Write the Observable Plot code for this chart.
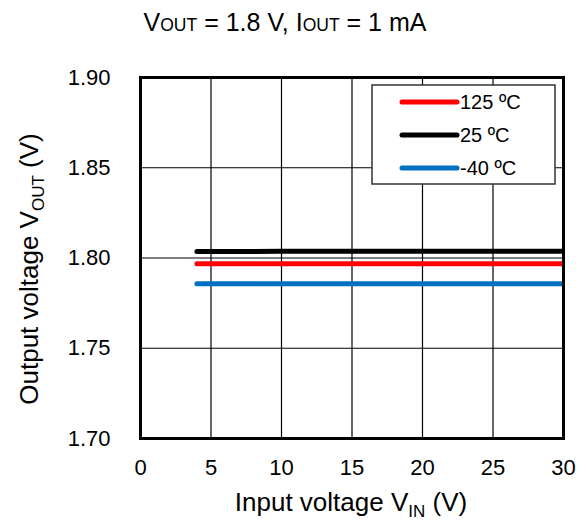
<!DOCTYPE html>
<html><head><meta charset="utf-8">
<script src="https://cdn.jsdelivr.net/npm/d3@7"></script>
<script src="https://cdn.jsdelivr.net/npm/@observablehq/plot@0.6"></script>
<style>body{margin:0;background:#fff}</style>
</head><body><div id="chart"></div>
<script>
const vin = [4, 5, 10, 15, 20, 25, 30];
const series = ["125 ºC", "25 ºC", "-40 ºC"];
const v125 = [1.7968, 1.7968, 1.7968, 1.7968, 1.7968, 1.7968, 1.7968];
const v25 = [1.8036, 1.8036, 1.8037, 1.8037, 1.8037, 1.8037, 1.8037];
const vm40 = [1.7858, 1.7858, 1.7858, 1.7858, 1.7858, 1.7858, 1.7858];
const colors = ["#ff0000", "#000000", "#0070c0"];
const xTicks = [0, 5, 10, 15, 20, 25, 30];
const yTicks = [1.70, 1.75, 1.80, 1.85, 1.90];

const allVals = [v125, v25, vm40];
const data = [];
series.forEach((s, i) => vin.forEach((x, j) => data.push({series: s, vin: x, vout: allVals[i][j]})));

const font = "Arial, 'Liberation Sans', sans-serif";
const plot = Plot.plot({
  width: 580, height: 520,
  marginLeft: 140, marginRight: 17, marginTop: 77, marginBottom: 82,
  style: {fontFamily: font, background: "white", color: "black"},
  x: {domain: [0, 30]},
  y: {domain: [1.70, 1.90]},
  color: {domain: series, range: colors},
  marks: [
    Plot.ruleX(xTicks, {stroke: "black", strokeWidth: 1.2}),
    Plot.ruleY(yTicks, {stroke: "black", strokeWidth: 1.2}),
    Plot.line(data, {x: "vin", y: "vout", z: "series", stroke: "series", strokeWidth: 5, strokeLinecap: "round", clip: true}),
    Plot.frame({stroke: "black", strokeWidth: 3}),
    Plot.axisX(xTicks, {tickSize: 0, tickPadding: 21, fontSize: 22, label: null}),
    Plot.axisY(yTicks, {tickSize: 0, tickPadding: 30, fontSize: 22, label: null, tickFormat: d => d.toFixed(2)})
  ]
});
document.getElementById("chart").appendChild(plot);

const svg = d3.select(plot);
// Title
const t = svg.append("text").attr("x", 285).attr("y", 31).attr("text-anchor", "middle")
  .attr("font-size", 25).attr("fill", "black").style("font-family", font);
t.append("tspan").text("V");
t.append("tspan").attr("font-size", 17.5).text("OUT");
t.append("tspan").text(" = 1.8 V, I");
t.append("tspan").attr("font-size", 17.5).text("OUT");
t.append("tspan").text(" = 1 mA");

// X label
const xl = svg.append("text").attr("x", 351).attr("y", 511).attr("text-anchor", "middle")
  .attr("font-size", 26).attr("fill", "black").style("font-family", font);
xl.append("tspan").text("Input voltage V");
xl.append("tspan").attr("font-size", 17).attr("dy", 6).text("IN");
xl.append("tspan").attr("dy", -6).text(" (V)");

// Y label
const yl = svg.append("text").attr("transform", "translate(38,269) rotate(-90)").attr("text-anchor", "middle")
  .attr("font-size", 26).attr("fill", "black").style("font-family", font);
yl.append("tspan").text("Output voltage V");
yl.append("tspan").attr("font-size", 17).attr("dy", 6).text("OUT");
yl.append("tspan").attr("dy", -6).text(" (V)");

// Legend
const lg = svg.append("g");
lg.append("rect").attr("x", 372).attr("y", 85).attr("width", 183).attr("height", 99)
  .attr("fill", "white").attr("stroke", "#333").attr("stroke-width", 1.5);
series.forEach((s, i) => {
  const y = 102 + i * 33;
  lg.append("line").attr("x1", 402).attr("x2", 457).attr("y1", y).attr("y2", y)
    .attr("stroke", colors[i]).attr("stroke-width", 5).attr("stroke-linecap", "round");
  lg.append("text").attr("x", 460).attr("y", y).attr("dy", "0.35em").attr("font-size", 20)
    .attr("text-anchor", "start").attr("fill", "black").style("font-family", font).text(s);
});
</script>
</body></html>
